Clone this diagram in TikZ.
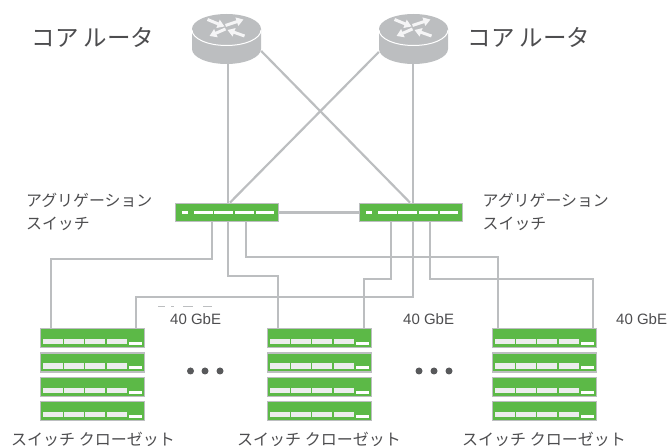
\documentclass[tikz,border=0pt]{standalone}
\usepackage{fontspec}
\usetikzlibrary{backgrounds,arrows.meta}
\setmainfont{Liberation Sans}
\newfontfamily\jp{Noto Sans CJK JP}
\definecolor{linkgrey}{HTML}{BCBEC0}
\definecolor{swgreen}{HTML}{5CB947}
\definecolor{txtgrey}{HTML}{4D4D4F}
\definecolor{dotgrey}{HTML}{58595B}
\tikzset{
  link/.style={draw=linkgrey,line width=2.2pt},
  lbig/.style={text=txtgrey,font=\jp\fontsize{23.5}{26}\selectfont,inner sep=0pt},
  lmid/.style={text=txtgrey,font=\jp\fontsize{15.9}{23.5}\selectfont,inner sep=0pt,align=left},
  lrack/.style={text=txtgrey,font=\jp\fontsize{16}{18}\selectfont,inner sep=0pt},
  lspeed/.style={text=txtgrey,font=\fontsize{15}{17}\selectfont,inner sep=0pt},
  aggbox/.style={draw=linkgrey,fill=swgreen,line width=1.3pt,minimum width=103pt,minimum height=18.5pt,inner sep=0pt},
  rackbox/.style={draw=linkgrey,fill=swgreen,line width=1.6pt,minimum width=104pt,minimum height=19pt,inner sep=0pt},
  dotn/.style={circle,fill=dotgrey,minimum size=7pt,inner sep=0pt},
  routern/.style={minimum width=69pt,minimum height=50pt,inner sep=0pt},
  routerarrow/.style={draw=white!85!linkgrey,line width=3pt,-{Triangle[length=7pt,width=8.5pt]}}
}
\newcommand{\routerart}[2]{%
  \begin{scope}[shift={(#1,#2)}]
    \fill[linkgrey] (-34.5,-6) -- (-34.5,14) arc[start angle=180,end angle=0,x radius=34.5,y radius=15] -- (34.5,-6) -- cycle;
    \fill[linkgrey] (0,-6) ellipse[x radius=34.5,y radius=15];
    \draw[white,line width=1pt] (-34.5,-5) arc[start angle=180,end angle=0,x radius=34.5,y radius=15.5];
    \draw[routerarrow] (-19,-15.5) -- (-2,-8.5);
    \draw[routerarrow] (-1,-9.5) -- (17,-15.5);
    \draw[routerarrow] (-1,-6) -- (-17,1);
    \draw[routerarrow] (18,1) -- (1,-5);
  \end{scope}}
\newcommand{\aggart}[2]{%
  \begin{scope}[shift={(#1,#2)}]
    \fill[white] (-45,-1.9) rectangle (-39.5,1.9);
    \foreach \s in {-33,-13,8,28.5}{\fill[white] (\s,-1.9) rectangle (\s+18.5,1.9);}
  \end{scope}}
\newcommand{\rackart}[2]{%
  \begin{scope}[shift={(#1,#2)}]
    \foreach \s in {-49.5,-28.5,-7.5,14.5}{%
      \fill[white!72!linkgrey] (\s,1) rectangle (\s+20,6.2);}
    \fill[white] (36.5,3.7) rectangle (49.5,7);
  \end{scope}}
\begin{document}
\begin{tikzpicture}[x=1pt,y=-1pt]
\useasboundingbox (0,0) rectangle (670,446);
% nodes
\node[routern] (r1) at (226.5,39) {};
\node[routern] (r2) at (413.5,39) {};
\node[aggbox] (a1) at (227,212.5) {};
\node[aggbox] (a2) at (411,212.5) {};
\foreach \n/\x in {ra/92.5,rb/319.5,rc/544.5}{
  \node[rackbox] (\n1) at (\x,338) {};
  \node[rackbox] (\n2) at (\x,362.5) {};
  \node[rackbox] (\n3) at (\x,387) {};
  \node[rackbox] (\n4) at (\x,411) {};
}
% connectors
\begin{scope}[on background layer]
\draw[link] (a1.east) -- (a2.west);
\draw[link] ([xshift=1.5pt]r1.south) -- ([xshift=1pt]a1.north);
\draw[link] ([xshift=-.5pt]r2.south) -- ([xshift=2pt]a2.north);
\draw[link] ([yshift=-12pt]r1.east) -- ([xshift=-1pt]a2.north);
\draw[link] ([yshift=-13pt]r2.west) -- ([xshift=3pt]a1.north);
\draw[link] ([xshift=-15pt]a1.south) -- ++(0,37) -| ([xshift=-41.5pt]ra1.north);
\draw[link] ([xshift=1pt]a1.south) -- ++(0,53.25) -| ([xshift=-41.5pt]rb1.north);
\draw[link] ([xshift=19pt]a1.south) -- ++(0,34.25) -| ([xshift=-46.5pt]rc1.north);
\draw[link] ([xshift=2pt]a2.south) -- ++(0,74.25) -| ([xshift=43.5pt]ra1.north);
\draw[link] ([xshift=-20pt]a2.south) -- ++(0,56.25) -| ([xshift=44.5pt]rb1.north);
\draw[link] ([xshift=19pt]a2.south) -- ++(0,56.25) -| ([xshift=48.5pt]rc1.north);
\end{scope}
\aggart{227}{212.5}
\aggart{411}{212.5}
\foreach \x in {92.5,319.5,544.5}{
  \foreach \y in {338,362.5,387,411}{\rackart{\x}{\y}}
}
\routerart{226.5}{35}
\routerart{413.5}{35}
% sliver marks above the first speed label
\foreach \p/\q in {158/165,171/174,183/193,203/212}{
  \draw[linkgrey,line width=.7pt] (\p,306) -- (\q,306);
}
% dots
\foreach \x/\k in {190.5/d1,205/d2,220/d3,419/d4,434/d5,449/d6}{\node[dotn] (\k) at (\x,371) {};}
% labels
\node[lbig,anchor=west] (t1) at (31.5,37) {コア ルータ};
\node[lbig,anchor=west] (t2) at (467.5,37) {コア ルータ};
\node[lmid,anchor=west] (m1) at (26,212) {アグリゲーション\\スイッチ};
\node[lmid,anchor=west] (m2) at (482.5,212) {アグリゲーション\\スイッチ};
\node[lspeed,anchor=west] (s1) at (170,319.5) {40 GbE};
\node[lspeed,anchor=west] (s2) at (403,319.5) {40 GbE};
\node[lspeed,anchor=west] (s3) at (616,319.5) {40 GbE};
\node[lrack,anchor=west] (k1) at (11,439) {スイッチ クローゼット};
\node[lrack,anchor=west] (k2) at (237,439) {スイッチ クローゼット};
\node[lrack,anchor=west] (k3) at (462,439) {スイッチ クローゼット};
\end{tikzpicture}
\end{document}
